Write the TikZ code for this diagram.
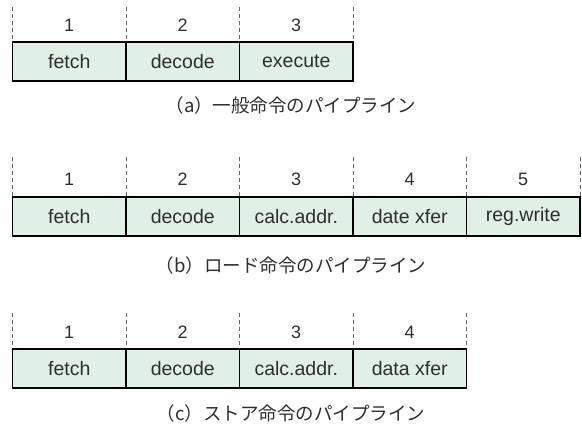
\documentclass[tikz,border=0pt]{standalone}
\usepackage{fontspec}
\setmainfont{Liberation Sans}
\newfontfamily\cjk{Noto Sans CJK JP}
\definecolor{cellfill}{HTML}{E0F0E4}
\definecolor{txt}{HTML}{2E2E2E}
\definecolor{guidecol}{HTML}{666666}
\begin{document}
\begin{tikzpicture}[x=1pt,y=-1pt,
 cell/.style={draw=black, line width=1.6pt, fill=cellfill, minimum width=113.5pt, minimum height=39pt, inner sep=0pt, outer sep=0pt, text=txt, font=\fontsize{19.5}{19.5}\selectfont},
 num/.style={text=txt, font=\fontsize{18}{18}\selectfont, inner sep=0pt},
 captext/.style={text=txt, font=\cjk\fontsize{18.5}{18.5}\selectfont, inner sep=0pt},
 guide/.style={draw=guidecol, line width=1pt, dash pattern=on 4pt off 3pt}]
\useasboundingbox (0,0) rectangle (582,424);
% ---- row a
\foreach \k in {0,...,3}{
  \coordinate (at\k) at ({12.5+113.5*\k},7);
  \coordinate (ab\k) at ({12.5+113.5*\k},42);
  \draw[guide] (at\k) -- (ab\k);
}
\foreach \t [count=\i] in {fetch,decode,execute}{
  \node[cell] (a\i) at ({12.5+113.5*(\i-1)+56.75},61.5) {\t};
  \node[num] (an\i) at ({12.5+113.5*(\i-1)+56.75},25) {\i};
}
\node[captext] (capa) at (291,105) {（a）一般命令のパイプライン};
% ---- row b
\foreach \k in {0,...,5}{
  \coordinate (bt\k) at ({12.5+113.5*\k},157);
  \coordinate (bb\k) at ({12.5+113.5*\k},197);
  \draw[guide] (bt\k) -- (bb\k);
}
\foreach \t [count=\i] in {fetch,decode,calc.addr.,date xfer,reg.write}{
  \node[cell] (b\i) at ({12.5+113.5*(\i-1)+56.75},216.5) {\t};
  \node[num] (bn\i) at ({12.5+113.5*(\i-1)+56.75},179) {\i};
}
\node[captext] (capb) at (291,265) {（b）ロード命令のパイプライン};
% ---- row c
\foreach \k in {0,...,4}{
  \coordinate (ct\k) at ({12.5+113.5*\k},313);
  \coordinate (cb\k) at ({12.5+113.5*\k},349);
  \draw[guide] (ct\k) -- (cb\k);
}
\foreach \t [count=\i] in {fetch,decode,calc.addr.,data xfer}{
  \node[cell] (c\i) at ({12.5+113.5*(\i-1)+56.75},368.5) {\t};
  \node[num] (cn\i) at ({12.5+113.5*(\i-1)+56.75},332) {\i};
}
\node[captext] (capc) at (291,413) {（c）ストア命令のパイプライン};
\end{tikzpicture}
\end{document}
